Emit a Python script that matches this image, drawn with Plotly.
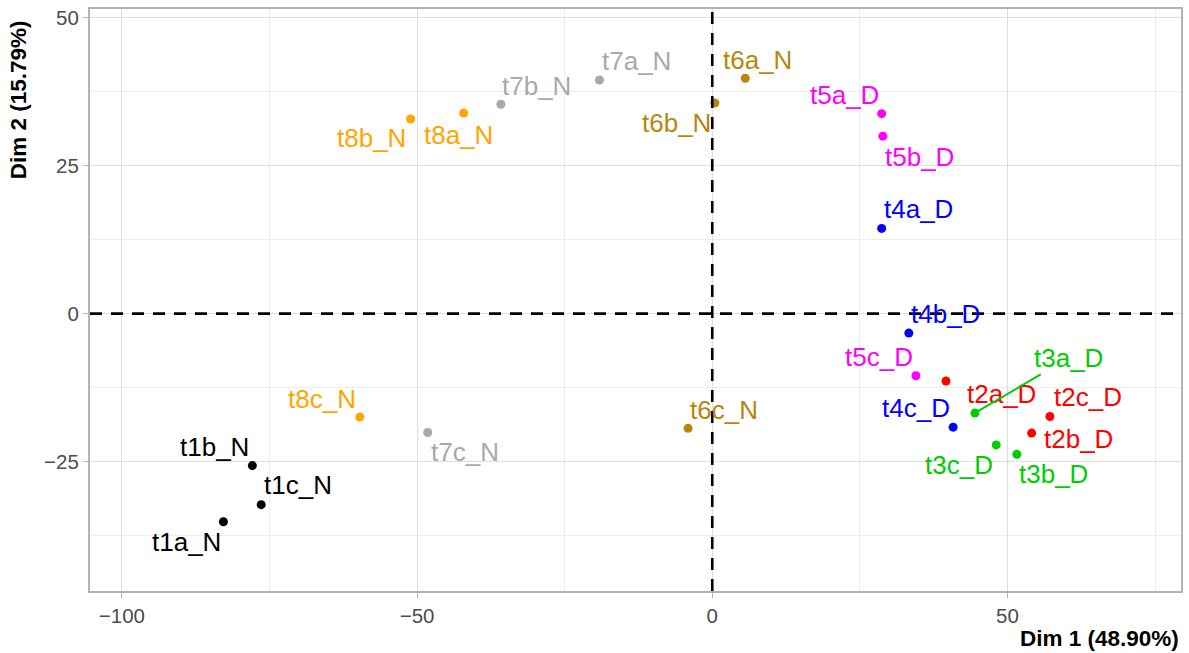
import plotly.graph_objects as go

# ---- data ----
labels = ["t1a_N", "t1b_N", "t1c_N",
          "t2a_D", "t2b_D", "t2c_D",
          "t3a_D", "t3b_D", "t3c_D",
          "t4a_D", "t4b_D", "t4c_D",
          "t5a_D", "t5b_D", "t5c_D",
          "t6a_N", "t6b_N", "t6c_N",
          "t7a_N", "t7b_N", "t7c_N",
          "t8a_N", "t8b_N", "t8c_N"]
dim1 = [-82.8, -77.9, -76.4,
        39.6, 54.1, 57.2,
        44.5, 51.6, 48.1,
        28.7, 33.3, 40.8,
        28.7, 28.9, 34.5,
        5.6, 0.45, -4.1,
        -19.1, -35.8, -48.2,
        -42.1, -51.1, -59.7]
dim2 = [-35.2, -25.7, -32.3,
        -11.4, -20.2, -17.4,
        -16.8, -23.8, -22.2,
        14.4, -3.3, -19.2,
        33.8, 30.0, -10.5,
        39.8, 35.6, -19.4,
        39.5, 35.4, -20.1,
        33.9, 32.9, -17.5]
x_title = "Dim 1 (48.90%)"
y_title = "Dim 2 (15.79%)"
x_ticks = [-100, -50, 0, 50]
y_ticks = [-25, 0, 25, 50]

# ---- styles ----
group_colors = {
    "t1": "#000000", "t2": "#FF0000", "t3": "#00CD00", "t4": "#0000FF",
    "t5": "#FF00FF", "t6": "#B8860B", "t7": "#A9A9A9", "t8": "#FFA500",
}
# label offsets in pixels (dx right, dy down), as placed by a label repeller
label_offsets = {
    "t1a_N": (-37, 20), "t1b_N": (-38, -19), "t1c_N": (37, -20),
    "t2a_D": (55, 13), "t2b_D": (47, 6), "t2c_D": (38, -20),
    "t3a_D": (94, -55), "t3b_D": (37, 20), "t3c_D": (-37, 20),
    "t4a_D": (37, -19), "t4b_D": (37, -19), "t4c_D": (-37, -19),
    "t5a_D": (-37, -19), "t5b_D": (37, 21), "t5c_D": (-37, -19),
    "t6a_N": (12, -18), "t6b_N": (-38, 20), "t6c_N": (36, -18),
    "t7a_N": (37, -19), "t7b_N": (36, -18), "t7c_N": (37, 20),
    "t8a_N": (-5, 22), "t8b_N": (-39, 19), "t8c_N": (-38, -18),
}
segment_labels = {"t3a_D"}

FONT = "Liberation Sans, Arial, Helvetica, sans-serif"
colors = [group_colors[l[:2]] for l in labels]

fig = go.Figure()
# reference lines
fig.add_hline(y=0, line=dict(color="black", width=2.6, dash="12px,9px"))
fig.add_vline(x=0, line=dict(color="black", width=2.6, dash="12px,9px"))

fig.add_trace(go.Scatter(
    x=dim1, y=dim2, mode="markers",
    marker=dict(color=colors, size=9, line=dict(width=0)),
    text=labels, hoverinfo="text", showlegend=False,
))

for lab, xv, yv, col in zip(labels, dim1, dim2, colors):
    dx, dy = label_offsets[lab]
    if lab in segment_labels:
        fig.add_annotation(x=xv, y=yv, text=lab, showarrow=True, ax=dx, ay=dy,
                           arrowhead=0, arrowwidth=2, arrowcolor=col, standoff=0,
                           font=dict(family=FONT, size=26, color=col))
    else:
        fig.add_annotation(x=xv, y=yv, text=lab, showarrow=False,
                           xshift=dx, yshift=-dy,
                           font=dict(family=FONT, size=26, color=col))

# axis titles
fig.add_annotation(text=x_title, xref="paper", yref="paper", x=1.0, y=-0.081,
                   xanchor="right", yanchor="middle", showarrow=False,
                   font=dict(family=FONT, size=22.5, color="black", weight="bold"))
fig.add_annotation(text=y_title, xref="paper", yref="paper", x=-0.066, y=0.985,
                   xanchor="center", yanchor="top", textangle=-90, showarrow=False,
                   font=dict(family=FONT, size=22.5, color="black", weight="bold"))

fig.update_xaxes(range=[-105.4, 79.4], tickvals=x_ticks,
                 ticktext=[("\u2212" + str(abs(v))) if v < 0 else str(v) for v in x_ticks],
                 showgrid=True, gridcolor="#DEDEDE", gridwidth=1,
                 minor=dict(dtick=25, tick0=0, showgrid=True, gridcolor="#EDEDED", gridwidth=1),
                 zeroline=False, showline=True, linecolor="#B3B3B3", linewidth=2, mirror=True,
                 ticks="outside", ticklen=5, tickcolor="#B3B3B3", tickwidth=1,
                 tickfont=dict(family=FONT, size=20.5, color="#4D4D4D"))
fig.update_yaxes(range=[-46.9, 51.5], tickvals=y_ticks,
                 ticktext=[("\u2212" + str(abs(v))) if v < 0 else str(v) for v in y_ticks],
                 showgrid=True, gridcolor="#DEDEDE", gridwidth=1,
                 minor=dict(dtick=12.5, tick0=0, showgrid=True, gridcolor="#EDEDED", gridwidth=1),
                 zeroline=False, showline=True, linecolor="#B3B3B3", linewidth=2, mirror=True,
                 ticks="outside", ticklen=5, tickcolor="#B3B3B3", tickwidth=1,
                 tickfont=dict(family=FONT, size=20.5, color="#4D4D4D"))

fig.update_layout(
    width=1189, height=653,
    margin=dict(l=90, r=6, t=8, b=62),
    plot_bgcolor="white", paper_bgcolor="white",
    showlegend=False,
)

fig.write_html("out.html", config={"displayModeBar": False},
               post_script="document.body.style.margin='0px';")
